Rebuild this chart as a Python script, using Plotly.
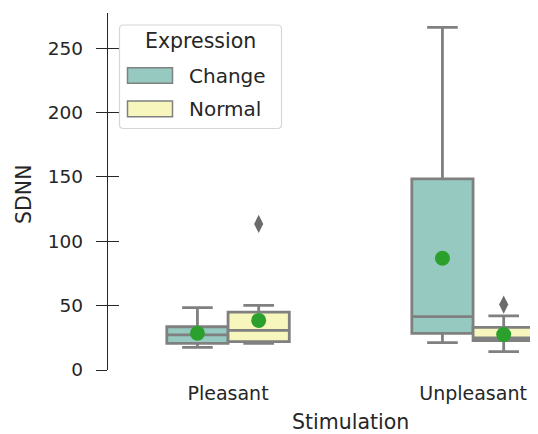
import plotly.graph_objects as go

# ---- data ----
categories = ["Pleasant", "Unpleasant"]
hues = ["Change", "Normal"]

q1 = {"Change": [20.7, 28.5], "Normal": [22.0, 22.8]}
median = {"Change": [27.2, 41.4], "Normal": [30.8, 25.0]}
q3 = {"Change": [33.6, 148.4], "Normal": [45.0, 33.1]}
lower = {"Change": [17.6, 21.2], "Normal": [20.7, 14.2]}
upper = {"Change": [48.4, 266.0], "Normal": [50.2, 42.0]}
means = {"Change": [28.5, 86.8], "Normal": [38.5, 27.5]}
outliers = {"Change": [[], []], "Normal": [[113.4], [50.8]]}

y_ticks = [0, 50, 100, 150, 200, 250]

# ---- style ----
fills = {"Change": "#96cac1", "Normal": "#f6f6bd"}
edge = "#808080"
txt = "#262626"
FONT = "DejaVu Sans"
OFF = 8  # browser default body margin
W, H = 538 - OFF, 434 - OFF
L, R, T, B = 108 - OFF, 0, 13 - OFF, 434 - 370
xr = [-0.49, 1.265]
yr = [0, 277.2]
hue_off = {"Change": -0.125, "Normal": 0.125}
box_w = 0.25

fig = go.Figure()
for h in hues:
    xs = [i + hue_off[h] for i in range(len(categories))]
    fig.add_trace(go.Box(
        x=xs, q1=q1[h], median=median[h], q3=q3[h],
        lowerfence=lower[h], upperfence=upper[h],
        width=box_w, whiskerwidth=0.5, boxpoints=False,
        fillcolor=fills[h], line=dict(color=edge, width=2.8),
        showlegend=False, hoverinfo="skip",
    ))
    ox, oy = [], []
    for i, vals in enumerate(outliers[h]):
        for v in vals:
            ox.append(i + hue_off[h]); oy.append(v)
    if ox:
        fig.add_trace(go.Scatter(
            x=ox, y=oy, mode="markers", showlegend=False,
            marker=dict(symbol="diamond-tall", size=13, color="#6b6b6b",
                        line=dict(width=0)),
        ))
    fig.add_trace(go.Scatter(
        x=xs, y=means[h], mode="markers", showlegend=False,
        marker=dict(symbol="circle", size=15, color="#2ca02c", line=dict(width=0)),
    ))

# invisible trace for the inner tick axis
fig.add_trace(go.Scatter(x=[None], y=[None], yaxis="y2", showlegend=False))

pw, ph = W - L - R, H - T - B
def px(x):  # reference pixel -> paper
    return (x - OFF - L) / pw
def py(y):
    return (H - B - (y - OFF)) / ph

shapes = []
# legend frame (rounded)
x0, x1, y0, y1, r = 119.5, 281.5, 25, 128.5, 4
path = (f"M {px(x0+r)},{py(y0)} L {px(x1-r)},{py(y0)} Q {px(x1)},{py(y0)} {px(x1)},{py(y0+r)} "
        f"L {px(x1)},{py(y1-r)} Q {px(x1)},{py(y1)} {px(x1-r)},{py(y1)} "
        f"L {px(x0+r)},{py(y1)} Q {px(x0)},{py(y1)} {px(x0)},{py(y1-r)} "
        f"L {px(x0)},{py(y0+r)} Q {px(x0)},{py(y0)} {px(x0+r)},{py(y0)} Z")
shapes.append(dict(type="path", xref="paper", yref="paper", path=path,
                   line=dict(color="#d6d6d6", width=1.2), fillcolor="rgba(255,255,255,0.85)", layer="above"))
patch_y = {"Change": (67.7, 83.3), "Normal": (101.0, 116.7)}
for h in hues:
    ya, yb = patch_y[h]
    shapes.append(dict(type="rect", xref="paper", yref="paper",
                       x0=px(127.5), x1=px(172.5), y0=py(yb), y1=py(ya),
                       line=dict(color=edge, width=1.5), fillcolor=fills[h], layer="above"))

annotations = [
    dict(text="Expression", x=px(200), y=py(41), xref="paper", yref="paper",
         xanchor="center", yanchor="middle", showarrow=False,
         font=dict(family=FONT, size=20.5, color=txt)),
]
for h in hues:
    ya, yb = patch_y[h]
    annotations.append(dict(text=h, x=px(187), y=py((ya + yb) / 2), xref="paper", yref="paper",
                            xanchor="left", yanchor="middle", showarrow=False,
                            font=dict(family=FONT, size=20, color=txt)))
annotations.append(dict(text="Stimulation", x=px(350), y=py(422), xref="paper", yref="paper",
                        xanchor="center", yanchor="middle", height=22, showarrow=False,
                        font=dict(family=FONT, size=20.5, color=txt)))
annotations.append(dict(text="SDNN", x=px(24), y=py(195), xref="paper", yref="paper",
                        xanchor="center", yanchor="middle", textangle=-90, showarrow=False,
                        font=dict(family=FONT, size=20.5, color=txt)))

fig.update_layout(
    width=W, height=H, margin=dict(l=L, r=R, t=T, b=B, autoexpand=False),
    paper_bgcolor="white", plot_bgcolor="white",
    boxmode="overlay", showlegend=False,
    font=dict(family=FONT, color=txt),
    xaxis=dict(range=xr, tickmode="array", tickvals=list(range(len(categories))),
               ticktext=categories, ticks="", showline=False, showgrid=False,
               zeroline=False, tickfont=dict(size=19, color=txt), ticklabelstandoff=10),
    yaxis=dict(range=yr, tickmode="array", tickvals=y_ticks, ticks="outside", ticklen=11,
               tickwidth=1.3, tickcolor=txt, showline=True, linecolor=txt, linewidth=1.3,
               showgrid=False, zeroline=False, tickfont=dict(size=18.5, color=txt),
               ticklabelstandoff=9),
    yaxis2=dict(range=yr, overlaying="y", side="left", anchor="x", tickmode="array",
                tickvals=y_ticks, ticks="inside", ticklen=11, tickwidth=1.3, tickcolor=txt,
                showticklabels=False, showgrid=False, zeroline=False, showline=False),
    shapes=shapes, annotations=annotations,
)

fig.write_html("out.html")
